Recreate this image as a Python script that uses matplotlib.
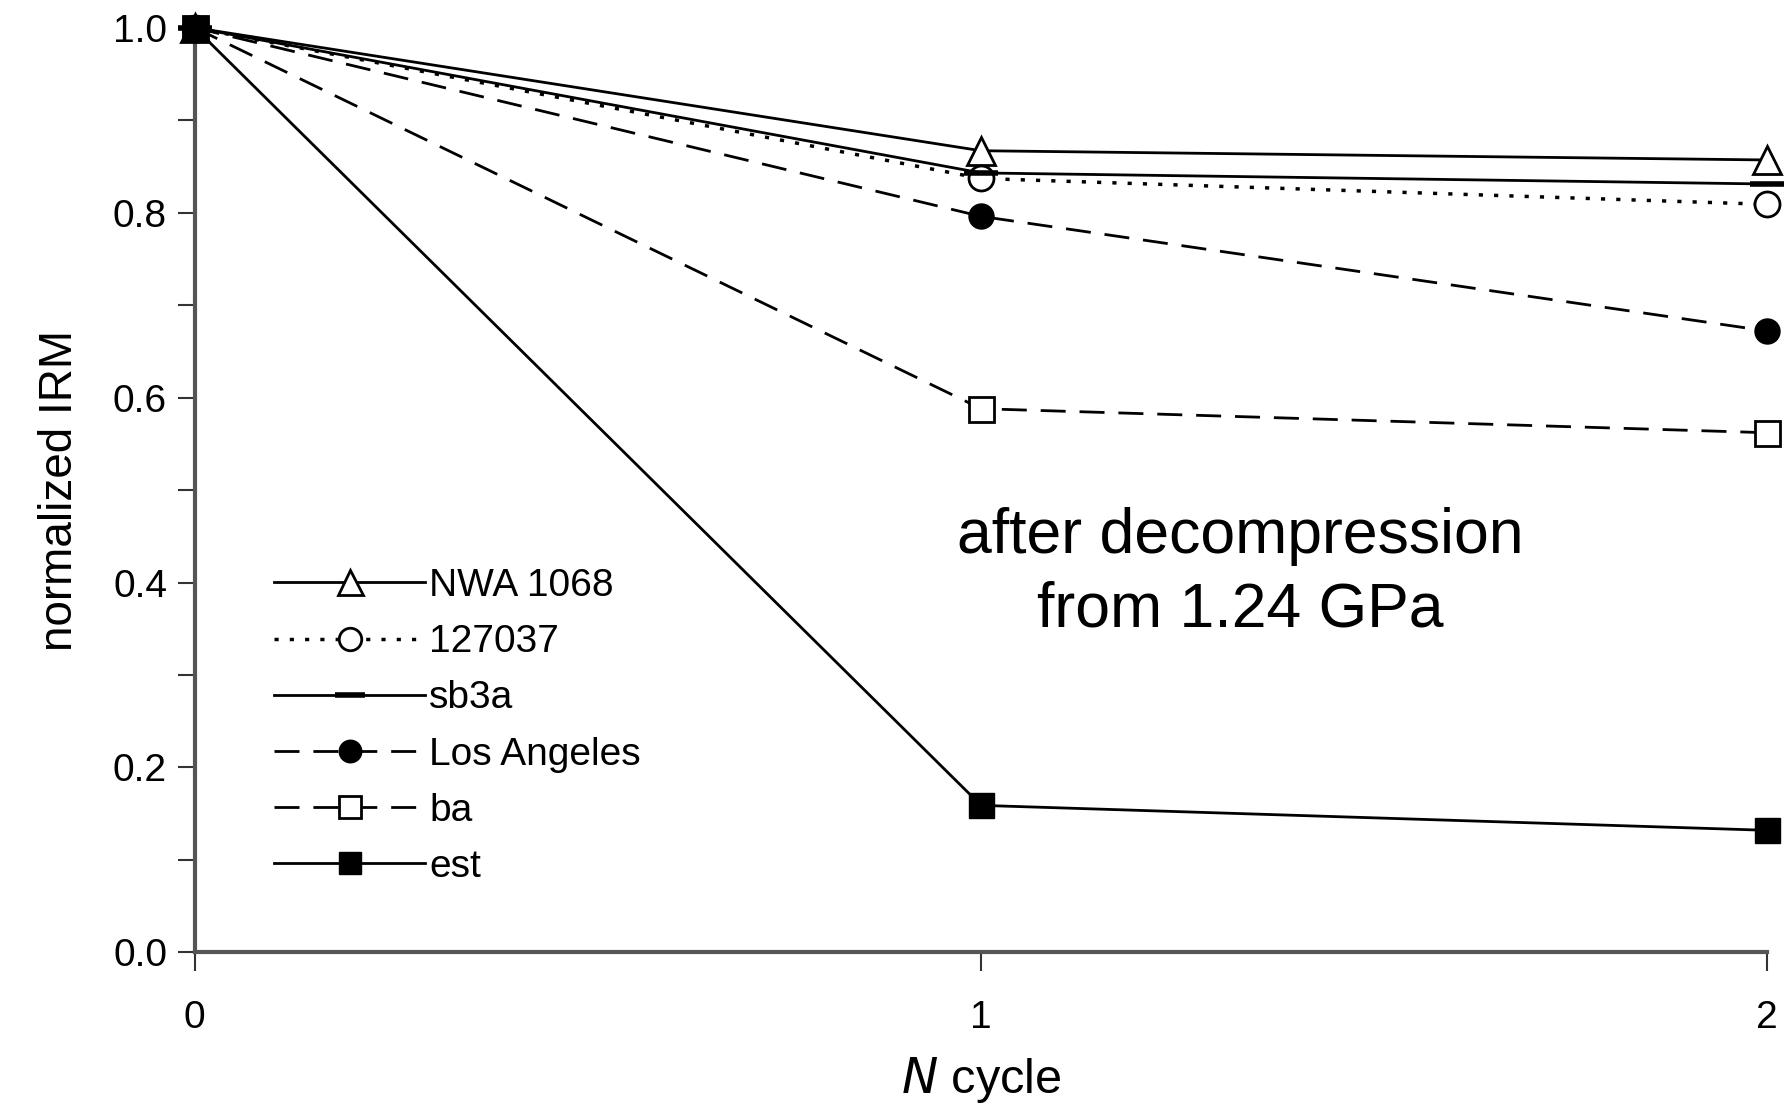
import matplotlib.pyplot as plt
from matplotlib.ticker import MultipleLocator

plt.rcParams['font.family'] = ['Liberation Sans', 'DejaVu Sans']

# N cycle and normalized IRM
cycles = [0, 1, 2]
nwa_1068 = [1.0, 0.867, 0.857]
s127037 = [1.0, 0.837, 0.809]
sb3a = [1.0, 0.843, 0.831]
los_angeles = [1.0, 0.796, 0.672]
ba = [1.0, 0.588, 0.562]
est = [1.0, 0.159, 0.132]

fig = plt.figure(figsize=(17.87, 11.1), dpi=100)
ax = fig.add_axes([0.109, 0.142, 0.880, 0.833])

ms = 18
dash = (9, 5)
ax.plot(cycles, nwa_1068, '-', color='black', lw=2, marker='^', ms=ms + 2,
        mfc='white', mec='black', mew=2, label='NWA 1068', clip_on=False, zorder=3)
ax.plot(cycles, s127037, color='black', lw=2.5, dashes=(1.2, 3.2), marker='o', ms=ms,
        mfc='white', mec='black', mew=2, label='127037', clip_on=False, zorder=3)
ax.plot(cycles, sb3a, '-', color='black', lw=2, marker='_', ms=ms + 6,
        mec='black', mew=4, label='sb3a', clip_on=False, zorder=3)
ax.plot(cycles, los_angeles, color='black', lw=2, dashes=dash, marker='o', ms=ms,
        mfc='black', mec='black', label='Los Angeles', clip_on=False, zorder=3)
ax.plot(cycles, ba, color='black', lw=2, dashes=dash, marker='s', ms=ms,
        mfc='white', mec='black', mew=2, label='ba', clip_on=False, zorder=3)
ax.plot(cycles, est, '-', color='black', lw=2, marker='s', ms=ms,
        mfc='black', mec='black', label='est', clip_on=False, zorder=3)

ax.set_xlim(0, 2)
ax.set_ylim(0, 1.0)
ax.xaxis.set_major_locator(MultipleLocator(1))
ax.yaxis.set_major_locator(MultipleLocator(0.2))
ax.yaxis.set_minor_locator(MultipleLocator(0.1))
ax.yaxis.set_major_formatter(plt.FormatStrFormatter('%.1f'))

for s in ['top', 'right']:
    ax.spines[s].set_visible(False)
for s in ['left', 'bottom']:
    ax.spines[s].set_linewidth(3)
    ax.spines[s].set_color('#555555')

ax.tick_params(axis='both', which='both', direction='out', width=1.5, color='#333333')
ax.tick_params(axis='y', which='both', length=12, labelsize=28, pad=8)
ax.tick_params(axis='x', length=14, labelsize=28, pad=20)

ax.set_xlabel('$N$ cycle', fontsize=35, labelpad=14)
ax.set_ylabel('normalized IRM', fontsize=33, labelpad=22)

ax.text(1.33, 0.41, 'after decompression\nfrom 1.24 GPa', fontsize=45,
        ha='center', va='center', linespacing=1.3)

leg = ax.legend(loc='lower left', bbox_to_anchor=(0.028, 0.035), frameon=False,
                fontsize=28, handlelength=3.9, handletextpad=0.1, labelspacing=0.52,
                markerscale=0.9)

fig.savefig('out.png', dpi=100)
